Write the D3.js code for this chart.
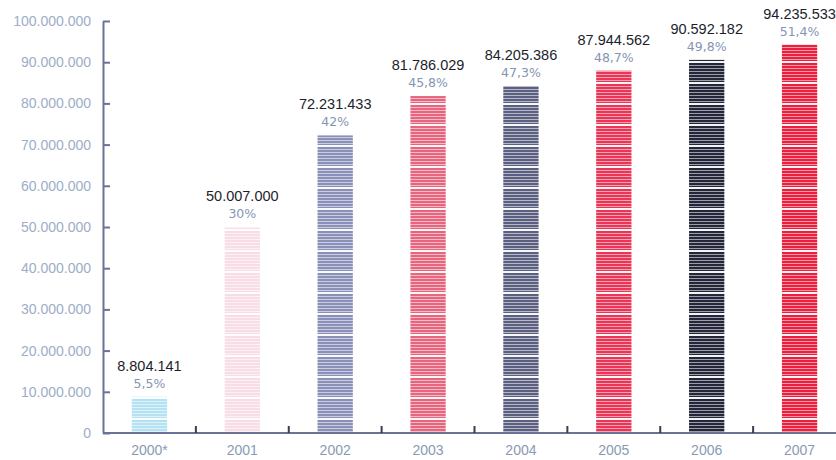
<!DOCTYPE html>
<html><head><meta charset="utf-8">
<script src="https://cdn.jsdelivr.net/npm/d3@7"></script>
<style>
html,body{margin:0;padding:0;background:#fff;}
svg{display:block;}
</style></head>
<body>
<svg id="chart" width="836" height="460"></svg>
<script>
const years = ["2000*", "2001", "2002", "2003", "2004", "2005", "2006", "2007"];
const values = [8804141, 50007000, 72231433, 81786029, 84205386, 87944562, 90592182, 94235533];
const percents = [5.5, 30, 42, 45.8, 47.3, 48.7, 49.8, 51.4];
const barColors = ["#b4e2f2", "#f9dde6", "#8a90b8", "#e8657e", "#5b5f80", "#ea3556", "#24263a", "#ec1f3e"];
const yTicks = [0, 10000000, 20000000, 30000000, 40000000, 50000000, 60000000, 70000000, 80000000, 90000000, 100000000];

const W = 836, H = 460;
const left = 103, baseline = 433, topY = 21;
const locale = d3.formatLocale({decimal: ",", thousands: ".", grouping: [3], currency: ["", "€"]});
const fmtInt = locale.format(",d");
const fmtPct = locale.format(".1~f");

const svg = d3.select("#chart");
const x = d3.scaleBand().domain(years).range([left, 846]).paddingInner(0.62).paddingOuter(0.31);
const y = d3.scaleLinear().domain([0, 100000000]).range([baseline, topY]);

// stripe patterns
const defs = svg.append("defs");
barColors.forEach((c, i) => {
  const p = defs.append("pattern").attr("id", "pat" + i)
    .attr("patternUnits", "userSpaceOnUse").attr("width", 8).attr("height", 21);
  p.append("rect").attr("width", 8).attr("height", 21).attr("fill", c);
  for (let k = 0; k < 6; k++) {
    p.append("rect").attr("x", 0).attr("y", k * 3 + 2).attr("width", 8).attr("height", 1)
      .attr("fill", "#fff").attr("opacity", 0.55);
  }
  p.append("rect").attr("x", 0).attr("y", 19).attr("width", 8).attr("height", 2)
    .attr("fill", "#fff").attr("opacity", 0.95);
});

// bars
svg.append("g").selectAll("rect").data(years).join("rect")
  .attr("x", d => x(d))
  .attr("y", (d, i) => y(values[i]))
  .attr("width", x.bandwidth())
  .attr("height", (d, i) => baseline - y(values[i]))
  .attr("fill", (d, i) => `url(#pat${i})`);

// value labels
svg.append("g").selectAll("text").data(years).join("text")
  .attr("x", d => x(d) + x.bandwidth() / 2)
  .attr("y", (d, i) => y(values[i]) - 26)
  .attr("text-anchor", "middle")
  .attr("font-family", "Liberation Sans, Arial, sans-serif")
  .attr("font-size", 14.5)
  .attr("fill", "#1c1e2c")
  .text((d, i) => fmtInt(values[i]));

svg.append("g").selectAll("text").data(years).join("text")
  .attr("x", d => x(d) + x.bandwidth() / 2)
  .attr("y", (d, i) => y(values[i]) - 9)
  .attr("text-anchor", "middle")
  .attr("font-family", "DejaVu Sans, sans-serif")
  .attr("font-size", 12.5)
  .attr("fill", "#8595b2")
  .text((d, i) => fmtPct(percents[i]) + "%");

// y axis
const yAxis = d3.axisLeft(y).tickValues(yTicks).tickFormat(d => fmtInt(d))
  .tickSizeInner(-7).tickSizeOuter(0).tickPadding(12);
const gy = svg.append("g").attr("transform", `translate(${left},0)`).call(yAxis);
gy.select(".domain").attr("stroke", "#6a7298").attr("stroke-width", 2);
gy.selectAll(".tick line").attr("stroke", "#6a7298").attr("stroke-width", 2);
gy.selectAll(".tick text").attr("font-family", "Liberation Sans, Arial, sans-serif")
  .attr("font-size", 14).attr("fill", "#9dadc6");

// x axis
const xAxis = d3.axisBottom(x).tickSize(0).tickPadding(12);
const gx = svg.append("g").attr("transform", `translate(0,${baseline})`).call(xAxis);
gx.select(".domain").remove();
gx.append("line").attr("x1", left).attr("x2", W).attr("y1", 0).attr("y2", 0)
  .attr("stroke", "#6a7298").attr("stroke-width", 2);
gx.selectAll(".tick text").attr("font-family", "Liberation Sans, Arial, sans-serif")
  .attr("font-size", 14).attr("fill", "#8a9ab4");

// separators between categories
const step = x.step();
svg.append("g").selectAll("line").data(years.slice(1)).join("line")
  .attr("x1", d => x(d) - step * x.paddingInner() / 2)
  .attr("x2", d => x(d) - step * x.paddingInner() / 2)
  .attr("y1", baseline - 7).attr("y2", baseline)
  .attr("stroke", "#3a3d50").attr("stroke-width", 2);
</script>
</body></html>
